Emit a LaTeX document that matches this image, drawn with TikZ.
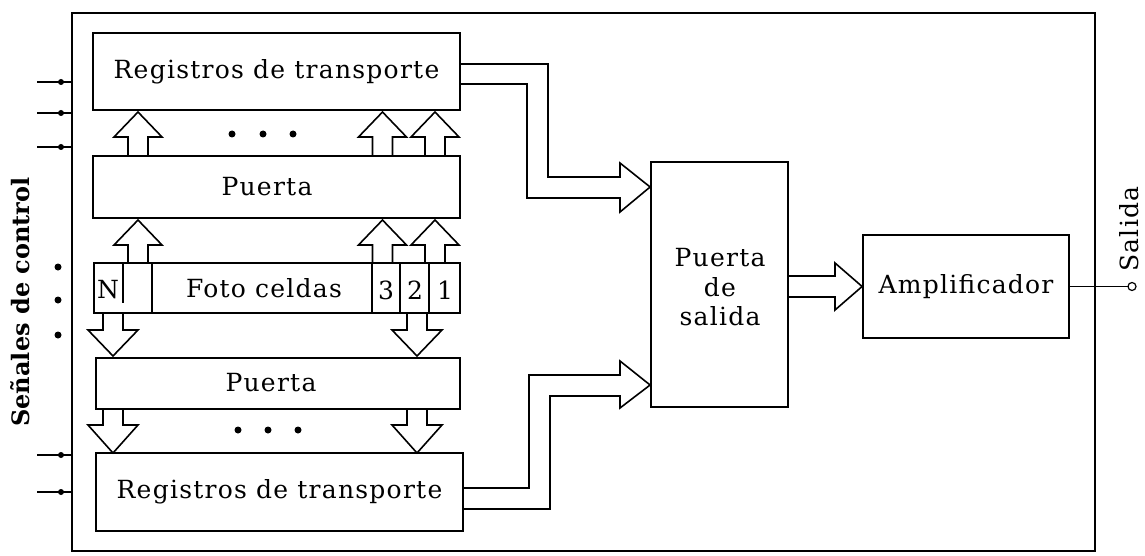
\documentclass[tikz,border=0pt]{standalone}
\usepackage{fontspec}
\setmainfont{DejaVu Serif}[LetterSpace=5]
\newfontfamily\boldlbl{DejaVu Serif Bold}
\begin{document}
\begin{tikzpicture}[x=1pt,y=-1pt,
  line width=1.8pt,
  box/.style={draw,line width=1.8pt,inner sep=0pt,font=\fontsize{25}{29}\selectfont},
  lbl/.style={inner sep=0pt,font=\fontsize{25}{29}\selectfont},
  barrow/.style={draw,line width=1.6pt,line join=miter},
  cdot/.style={fill,circle,inner sep=0pt,minimum size=7pt}]
\useasboundingbox (0,0) rectangle (1145,556);
% frame
\draw (72,13) rectangle (1095,551);
% boxes
\node[box,minimum width=367pt,minimum height=77pt] (reg1) at (276.5,71.5) {Registros de transporte};
\node[box,minimum width=367pt,minimum height=62pt] (pu1) at (276.5,187) {};
\node[lbl] (pu1t) at (267,187) {Puerta};
\node[box,minimum width=366pt,minimum height=50pt] (foto) at (277,288) {};
\node[box,minimum width=364pt,minimum height=51pt] (pu2) at (278,383.5) {};
\node[lbl] (pu2t) at (271,383) {Puerta};
\node[box,minimum width=367pt,minimum height=78pt] (reg2) at (279.5,492) {Registros de transporte};
\node[box,minimum width=137pt,minimum height=245pt] (ps) at (719.5,284.5) {};
\node[lbl] (ps1) at (720,258) {Puerta};
\node[lbl] (ps2) at (720,287) {de};
\node[lbl] (ps3) at (720,316) {salida};
\node[box,minimum width=206pt,minimum height=103pt] (amp) at (966,286.5) {Amplificador};
% photo cell dividers and labels
\draw (123,263) -- (123,303);
\draw (152,263) -- (152,313);
\draw (372,263) -- (372,313);
\draw (400,263) -- (400,313);
\draw (429,263) -- (429,313);
\node[lbl] (cN) at (108,290) {N};
\node[lbl] (cF) at (264,288) {Foto celdas};
\node[lbl] (c3) at (386,290) {3};
\node[lbl] (c2) at (415,290) {2};
\node[lbl] (c1) at (445,290) {1};
% up arrows
\foreach \cx in {138,382.5,435} {
  \draw[barrow] (\cx-10,156) -- (\cx-10,137) -- (\cx-24,137) -- (\cx,112) -- (\cx+24,137) -- (\cx+10,137) -- (\cx+10,156);
  \draw[barrow] (\cx-10,263) -- (\cx-10,245) -- (\cx-24,245) -- (\cx,220) -- (\cx+24,245) -- (\cx+10,245) -- (\cx+10,263);
}
% down arrows
\foreach \cx in {113,417} {
  \draw[barrow] (\cx-10,313) -- (\cx-10,330) -- (\cx-25,330) -- (\cx,356) -- (\cx+25,330) -- (\cx+10,330) -- (\cx+10,313);
  \draw[barrow] (\cx-10,409) -- (\cx-10,425) -- (\cx-25,425) -- (\cx,453) -- (\cx+25,425) -- (\cx+10,425) -- (\cx+10,409);
}
% dots
\foreach \x in {232,263,293} \node[cdot] at (\x,134) {};
\foreach \x in {238,268,298} \node[cdot] at (\x,430) {};
% big arrows to puerta de salida
\draw[barrow] (reg1.east |- 0,64) -- (548,64) -- (548,177) -- (620,177) -- (620,163) -- (ps.west |- 0,187) -- (620,212) -- (620,198) -- (527,198) -- (527,84) -- (reg1.east |- 0,84);
\draw[barrow] (reg2.east |- 0,488) -- (529,488) -- (529,375) -- (620,375) -- (620,361) -- (ps.west |- 0,385) -- (620,408) -- (620,396) -- (550,396) -- (550,509) -- (reg2.east |- 0,509);
\draw[barrow] (ps.east |- 0,276) -- (835,276) -- (835,263) -- (amp.west) -- (835,310) -- (835,297) -- (ps.east |- 0,297);
% output
\coordinate (outp) at (1128,286.5);
\draw[line width=1.4pt] (amp.east) -- (outp);
\draw[line width=1.2pt,fill=white] (1132,286.5) circle (4pt);
\node[lbl,rotate=90] (sal) at (1129,229) {Salida};
% control signals
\foreach \yy in {82,113,147,455,492} {
  \draw[line width=1.4pt] (37,\yy) -- (72,\yy);
  \fill (61,\yy) circle (3pt);
}
\foreach \yy in {267,300,335} \node[cdot] at (58,\yy) {};
\node[inner sep=0pt,rotate=90,font=\fontsize{24}{28}\boldlbl] (sen) at (20,302) {Señales de control};
\end{tikzpicture}
\end{document}
